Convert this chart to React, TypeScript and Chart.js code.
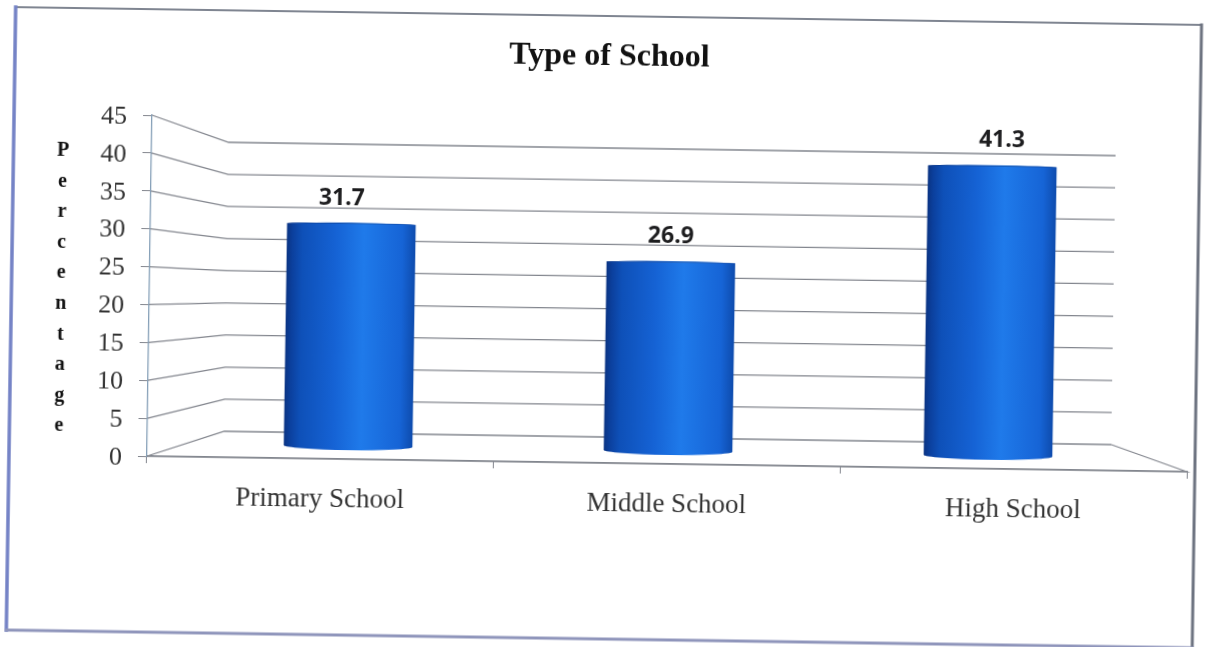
import React, { useEffect, useRef } from "react";
import { Chart, registerables } from "chart.js";

Chart.register(...registerables);

// Survey shares by type of school
const categories = ["Primary School", "Middle School", "High School"];
const percentages = [31.7, 26.9, 41.3];
const chartTitle = "Type of School";
const axisTitle = "Percentage";

// Pseudo-3D box: the walls sit behind the front plane of the axes.
const SERIF = '"Liberation Serif", "Times New Roman", serif';
const WALL_LEFT_INSET = 77;
const WALL_RIGHT_INSET = 76;
const WALL_Y_INSET = 26;
const LINE = "#83868e";

function backY(chart: any, value: number) {
  const { top, bottom } = chart.chartArea;
  const mid = (top + bottom) / 2;
  const k = (bottom - top - 2 * WALL_Y_INSET) / (bottom - top);
  return mid + (chart.scales.y.getPixelForValue(value) - mid) * k;
}

function barGradient(ctx: CanvasRenderingContext2D, centre: number, width: number) {
  const g = ctx.createLinearGradient(centre - width / 2, 0, centre + width / 2, 0);
  g.addColorStop(0, "#0a3484");
  g.addColorStop(0.04, "#0b3f9c");
  g.addColorStop(0.12, "#0e50b8");
  g.addColorStop(0.38, "#1562d4");
  g.addColorStop(0.6, "#1f7aea");
  g.addColorStop(0.9, "#1664d6");
  g.addColorStop(1, "#0e4cae");
  return g;
}

const framePlugin = {
  id: "frame",
  beforeDraw(chart: any) {
    const { ctx, width, height } = chart;
    ctx.save();
    ctx.fillStyle = "#ffffff";
    ctx.fillRect(0, 0, width, height);
    ctx.lineCap = "square";
    const edge = (x1: number, y1: number, x2: number, y2: number, c: string, w: number) => {
      ctx.strokeStyle = c;
      ctx.lineWidth = w;
      ctx.beginPath();
      ctx.moveTo(x1, y1);
      ctx.lineTo(x2, y2);
      ctx.stroke();
    };
    edge(11, 16, 1197, 16, "#7f8591", 2);
    edge(11, 16, 11, 639, "#7583c6", 3.5);
    edge(1197, 16, 1197, 639, "#6d7380", 3);
    edge(11, 639, 1197, 639, "#8f95bb", 3);
    ctx.restore();
  },
};

const wallsPlugin = {
  id: "walls",
  beforeDatasetsDraw(chart: any) {
    const { ctx, chartArea, scales } = chart;
    const { left, right, bottom } = chartArea;
    const backLeft = left + WALL_LEFT_INSET;
    const backRight = right - WALL_RIGHT_INSET;
    ctx.save();
    ctx.strokeStyle = LINE;
    ctx.lineWidth = 1.3;
    for (const tick of scales.y.ticks) {
      const back = backY(chart, tick.value);
      ctx.beginPath();
      ctx.moveTo(left, scales.y.getPixelForValue(tick.value));
      ctx.lineTo(backLeft, back);
      ctx.lineTo(backRight, back);
      ctx.stroke();
    }
    // Floor edge on the right and along the front
    ctx.beginPath();
    ctx.moveTo(backRight, backY(chart, 0));
    ctx.lineTo(right, bottom);
    ctx.lineTo(left, bottom);
    ctx.stroke();
    ctx.restore();
  },
};

const cylinderPlugin = {
  id: "cylinder",
  afterDatasetsDraw(chart: any) {
    const { ctx, scales } = chart;
    const meta = chart.getDatasetMeta(0);
    ctx.save();
    meta.data.forEach((bar: any, i: number) => {
      const fill = barGradient(ctx, bar.x, bar.width);
      ctx.fillStyle = fill;
      ctx.beginPath();
      ctx.ellipse(bar.x, bar.base, bar.width / 2, 4, 0, 0, Math.PI);
      ctx.fill();
      ctx.beginPath();
      ctx.ellipse(bar.x, bar.y, bar.width / 2, 1.5, 0, Math.PI, 2 * Math.PI);
      ctx.fill();
      ctx.fillStyle = "rgba(6,42,110,0.3)";
      ctx.fill();

      // Value labels float slightly in front of the cylinders
      const labelX = bar.x + (scales.x.getPixelForValue(i) - bar.x) * 0.36;
      ctx.fillStyle = "#1d1d1f";
      ctx.font = 'bold 23px "Open Sans", sans-serif';
      ctx.textAlign = "center";
      ctx.textBaseline = "middle";
      ctx.fillText(percentages[i].toFixed(1), labelX, bar.y - 26);
    });
    ctx.restore();
  },
};

const stackedTitlePlugin = {
  id: "stackedTitle",
  afterDraw(chart: any) {
    const { ctx } = chart;
    ctx.save();
    ctx.fillStyle = "#111111";
    ctx.font = `bold 20px ${SERIF}`;
    ctx.textAlign = "center";
    ctx.textBaseline = "middle";
    [...axisTitle].forEach((letter, i) => {
      const letterY = 159 + i * ((434 - 159) / (axisTitle.length - 1));
      ctx.fillText(i === 0 ? letter : letter.toLowerCase(), 60.5, letterY);
    });
    ctx.restore();
  },
};

export default function App() {
  const ref = useRef<HTMLCanvasElement | null>(null);

  useEffect(() => {
    if (!ref.current) return;
    const chart = new Chart(ref.current, {
      type: "bar",
      data: {
        labels: categories,
        datasets: [
          {
            label: "Percentage",
            data: percentages.map((y, x) => ({ x, y })),
            xAxisID: "xMid",
            yAxisID: "yMid",
            barThickness: 128,
            borderWidth: 0,
            backgroundColor: (c: any) => {
              const area = c.chart.chartArea;
              const xMid = c.chart.scales.xMid;
              if (!area || !xMid || c.dataIndex === undefined) return "#1763d2";
              return barGradient(c.chart.ctx, xMid.getPixelForValue(c.dataIndex), 128);
            },
          },
        ],
      },
      options: {
        responsive: false,
        animation: false,
        devicePixelRatio: 1,
        layout: { autoPadding: false, padding: 0 },
        plugins: {
          legend: { display: false },
          tooltip: { enabled: false },
          title: {
            display: true,
            text: chartTitle,
            color: "#111111",
            font: { family: SERIF, size: 32, weight: "bold", lineHeight: 1.2 },
            padding: { top: 38, bottom: 45.6 },
          },
        },
        scales: {
          x: {
            type: "category",
            offset: true,
            afterFit: (s: any) => {
              s.height = 184;
            },
            grid: { offset: true, drawOnChartArea: false, tickLength: 7, color: LINE },
            border: { color: LINE, width: 1.3 },
            ticks: {
              color: "#333333",
              font: { family: SERIF, size: 27 },
              padding: 18,
              maxRotation: 0,
            },
          },
          y: {
            type: "linear",
            min: 0,
            max: 45,
            afterFit: (s: any) => {
              s.width = 149;
            },
            grid: { drawOnChartArea: false, tickLength: 9, color: LINE },
            border: { color: "#86a0b8", width: 1.3 },
            ticks: {
              stepSize: 5,
              color: "#333333",
              font: { family: SERIF, size: 26 },
              padding: 16,
              labelOffset: 2,
            },
          },
          // Plane halfway into the box, where the cylinders stand
          xMid: { type: "linear", display: false, offset: false, min: -0.628, max: 2.622, grid: { display: false } },
          // Kept as an empty strip on the right so the title centres on the full width
          yMid: {
            type: "linear",
            position: "right",
            min: -1.857,
            max: 46.857,
            afterFit: (s: any) => {
              s.width = 22;
            },
            grid: { display: false },
            border: { display: false },
            ticks: { display: false },
          },
        },
      } as any,
      plugins: [framePlugin, wallsPlugin, cylinderPlugin, stackedTitlePlugin],
    });
    return () => chart.destroy();
  }, []);

  return (
    <div style={{ position: "fixed", inset: 0, overflow: "hidden", background: "#ffffff" }}>
      <canvas
        ref={ref}
        width={1211}
        height={647}
        style={{ display: "block", width: 1211, height: 647, transform: "rotate(0.86deg)", transformOrigin: "605px 323px" }}
      />
    </div>
  );
}
